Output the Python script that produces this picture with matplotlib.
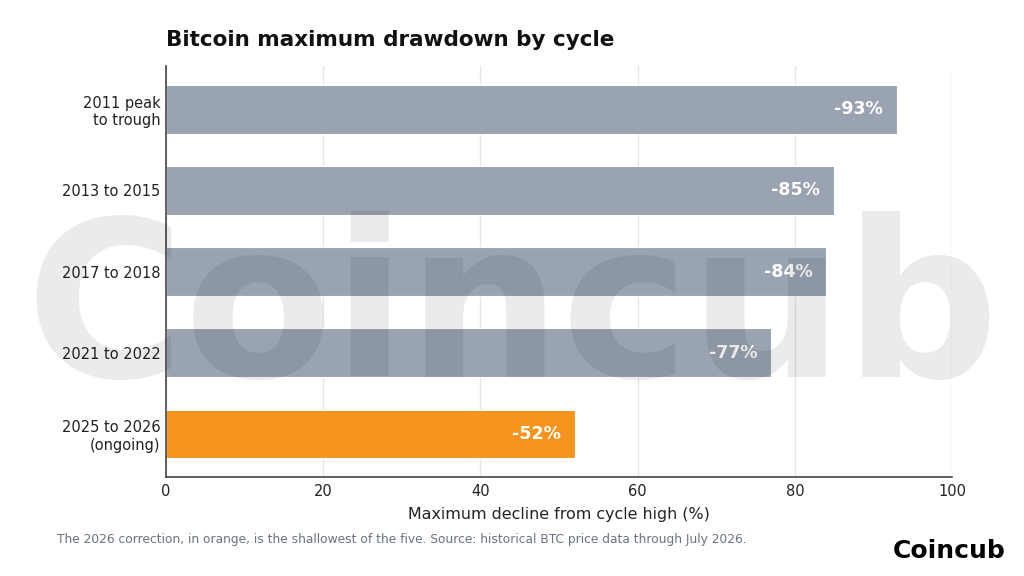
import matplotlib
matplotlib.use("Agg")
import matplotlib.pyplot as plt

categories = ["2011 peak\nto trough", "2013 to 2015", "2017 to 2018", "2021 to 2022", "2025 to 2026\n(ongoing)"]
values = [93, 85, 84, 77, 52]
bar_colors = ["#9aa3b1", "#9aa3b1", "#9aa3b1", "#9aa3b1", "#f7941d"]
value_labels = ["-93%", "-85%", "-84%", "-77%", "-52%"]
xticks = [0, 20, 40, 60, 80, 100]

title = "Bitcoin maximum drawdown by cycle"
xlabel = "Maximum decline from cycle high (%)"
footer = "The 2026 correction, in orange, is the shallowest of the five. Source: historical BTC price data through July 2026."
brand = "Coincub"

plt.rcParams['font.family'] = ['DejaVu Sans']

fig = plt.figure(figsize=(10.24, 5.76), dpi=100)
ax = fig.add_axes([0.162, 0.172, 0.768, 0.713])

ypos = list(range(len(categories)))
ax.barh(ypos, values, height=0.6, color=bar_colors, edgecolor="white", linewidth=0.8, zorder=2)
ax.invert_yaxis()
ax.set_yticks(ypos)
ax.set_yticklabels(categories, fontsize=10.5, color="#222222")
ax.set_xlim(0, 100)
ax.set_xticks(xticks)
ax.set_xticklabels([str(t) for t in xticks], fontsize=10.5, color="#222222")
ax.tick_params(axis="x", length=0, pad=5)
ax.tick_params(axis="y", length=0, pad=4)
ax.grid(axis="x", color="#e6e6e6", linewidth=1, zorder=0)
ax.set_axisbelow(True)
for s in ["top", "right"]:
    ax.spines[s].set_visible(False)
for s in ["left", "bottom"]:
    ax.spines[s].set_color("#444444")
    ax.spines[s].set_linewidth(1.2)
ax.set_xlabel(xlabel, fontsize=11.4, color="#222222", labelpad=6)

for y, v, lab in zip(ypos, values, value_labels):
    ax.text(v - 1.8, y, lab, ha="right", va="center", color="white",
            fontsize=12.5, fontweight="bold", zorder=3)

fig.text(0.162, 0.93, title, fontsize=15.5, fontweight="bold", color="#111111",
         ha="left", va="center")
fig.text(0.056, 0.063, footer, fontsize=8.85, color="#6b7280", ha="left", va="center")
fig.text(0.982, 0.031, brand, fontsize=18, fontweight="bold", color="black",
         ha="right", va="baseline")

# watermark
fig.text(0.5, 0.345, brand, fontsize=156, fontweight="bold", color="black", alpha=0.08,
         ha="center", va="baseline", zorder=10)

fig.savefig("out.png", dpi=100)
